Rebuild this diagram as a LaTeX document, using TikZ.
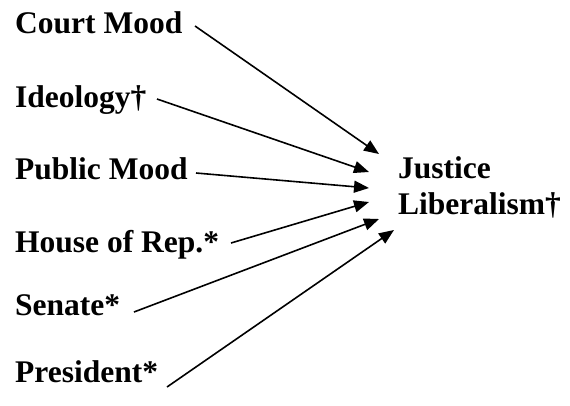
\documentclass[tikz,border=0pt]{standalone}
\usepackage{fontspec}
\setmainfont{Liberation Serif}
\usetikzlibrary{arrows.meta}
\begin{document}
\begin{tikzpicture}[x=1pt,y=-1pt,
  lbl/.style={anchor=base west,inner sep=0pt,font=\fontsize{31.5}{36}\selectfont\bfseries},
  conn/.style={line width=1.6pt,-{Triangle[length=15pt,width=12pt]}}]
\useasboundingbox (0,0) rectangle (570,405);
\node[lbl] (court) at (15,33) {Court Mood};
\node[lbl] (ideo) at (15,107) {Ideology†};
\node[lbl] (pub) at (15,179) {Public Mood};
\node[lbl] (house) at (15,252) {House of Rep.*};
\node[lbl] (sen) at (15,315) {Senate*};
\node[lbl] (pres) at (15,382) {President*};
\node[lbl] (just) at (398,178) {Justice};
\node[lbl] (lib) at (398,214) {Liberalism†};
\coordinate (s1) at (195,26);
\coordinate (t1) at (379,154);
\coordinate (s2) at (157,99);
\coordinate (t2) at (369,172);
\coordinate (s3) at (196,173);
\coordinate (t3) at (369,188);
\coordinate (s4) at (231,243);
\coordinate (t4) at (369,202);
\coordinate (s5) at (134,312);
\coordinate (t5) at (379,219);
\coordinate (s6) at (167,387);
\coordinate (t6) at (394,230);
\draw[conn] (s1) -- (t1);
\draw[conn] (s2) -- (t2);
\draw[conn] (s3) -- (t3);
\draw[conn] (s4) -- (t4);
\draw[conn] (s5) -- (t5);
\draw[conn] (s6) -- (t6);
\end{tikzpicture}
\end{document}
